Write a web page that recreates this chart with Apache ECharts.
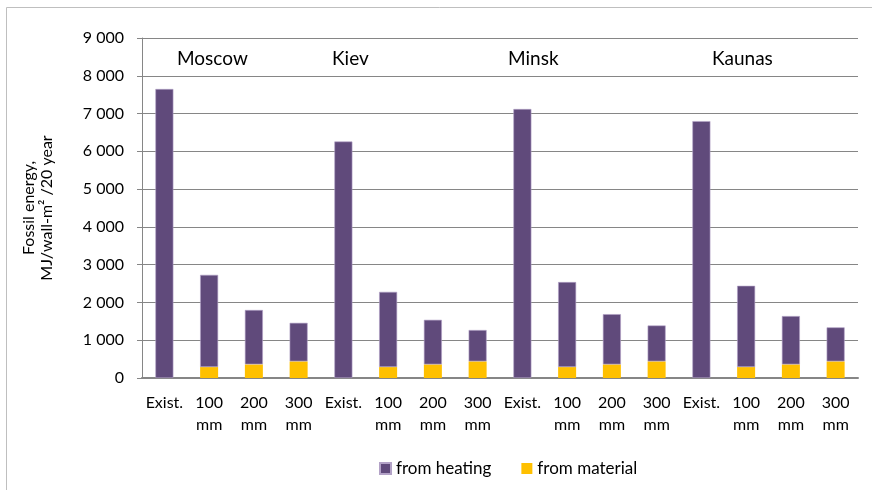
<!DOCTYPE html>
<html>
<head>
<meta charset="utf-8">
<script src="https://cdn.jsdelivr.net/npm/echarts@6/dist/echarts.min.js"></script>
<style>html,body{margin:0;padding:0;background:#fff}#c{width:872px;height:490px}</style>
</head>
<body>
<div id="c"></div>
<script>
var categories = ['Exist.','100\nmm','200\nmm','300\nmm','Exist.','100\nmm','200\nmm','300\nmm','Exist.','100\nmm','200\nmm','300\nmm','Exist.','100\nmm','200\nmm','300\nmm'];
var cities = ['Moscow','Kiev','Minsk','Kaunas'];
var fromHeating = [7650,2440,1440,1020, 6260,1990,1180,830, 7120,2250,1330,950, 6800,2150,1280,900];
var fromMaterial = [0,290,360,440, 0,290,360,440, 0,290,360,440, 0,290,360,440];
var yTicks = [0,1000,2000,3000,4000,5000,6000,7000,8000,9000];

var FONT = 'Lato';
var chart = echarts.init(document.getElementById('c'));
var cityX = [177, 332, 508, 712];
chart.setOption({
  animation: false,
  textStyle: {fontFamily: FONT},
  grid: {left: 142, right: 14, top: 38, bottom: 112},
  legend: {
    data: ['from heating','from material'],
    top: 455, left: 374,
    itemWidth: 11, itemHeight: 11, itemGap: 30,
    textStyle: {fontSize: 17, color: '#000', fontFamily: FONT},
    icon: 'rect'
  },
  graphic: [
    {type: 'rect', shape: {x: 6.5, y: 7.5, width: 900, height: 600}, style: {fill: 'none', stroke: '#bfbfbf', lineWidth: 1}, silent: true}
  ].concat(cities.map(function (c, i) {
    return {type: 'text', left: cityX[i], top: 49, style: {text: c, fontSize: 19, fontFamily: FONT, fill: '#000'}};
  })),
  xAxis: {
    type: 'category',
    data: categories,
    axisLine: {lineStyle: {color: '#868686', width: 2}},
    axisTick: {show: false},
    axisLabel: {interval: 0, fontSize: 16, color: '#000', lineHeight: 22, margin: 14, fontFamily: FONT}
  },
  yAxis: {
    type: 'value',
    min: 0, max: 9000, interval: 1000,
    name: 'Fossil energy,\nMJ/wall-m² /20 year',
    nameLocation: 'middle', nameRotate: 90, nameGap: 86,
    nameTextStyle: {fontSize: 16, color: '#000', lineHeight: 18, fontFamily: FONT},
    axisLine: {show: true, lineStyle: {color: '#868686', width: 1}},
    axisTick: {show: true, length: 5, inside: false, lineStyle: {color: '#868686'}},
    splitLine: {lineStyle: {color: '#868686', width: 1}},
    axisLabel: {
      fontSize: 16, color: '#000', margin: 18, fontFamily: FONT,
      formatter: function (v) { return String(v).replace(/\B(?=(\d{3})+(?!\d))/g, ' '); }
    }
  },
  series: [
    {
      name: 'from material', type: 'bar', stack: 's', data: fromMaterial, barWidth: 18,
      itemStyle: {color: '#FFC000'}
    },
    {
      name: 'from heating', type: 'bar', stack: 's', data: fromHeating, barWidth: 18,
      itemStyle: {color: '#604A7B', borderColor: '#b3a2c7', borderWidth: 0.6}
    }
  ]
});
</script>
</body>
</html>
